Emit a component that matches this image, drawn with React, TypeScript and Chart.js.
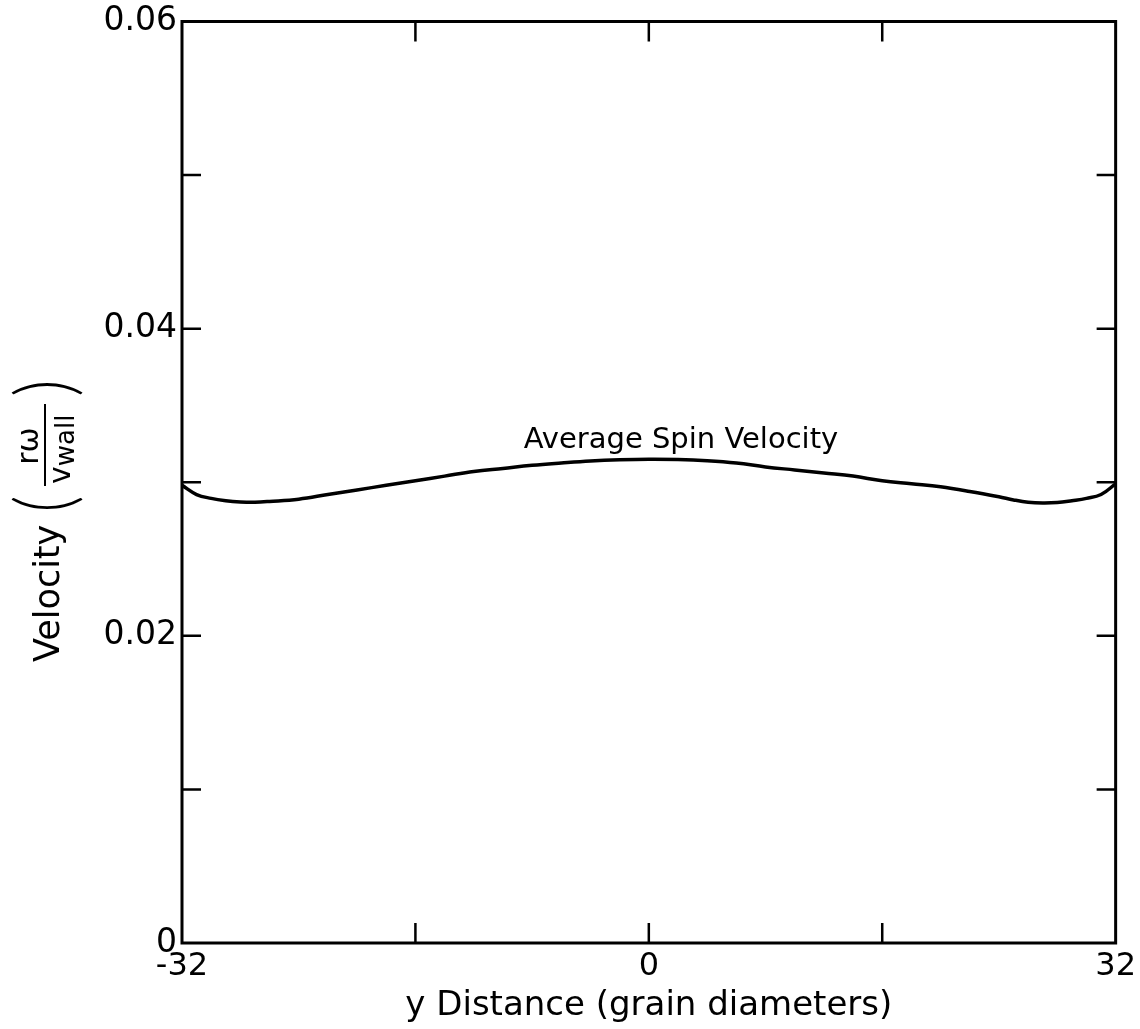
import { useEffect, useRef } from "react";
import { Chart, registerables } from "chart.js";

Chart.register(...registerables);

// Position across the channel, in grain diameters
const yDistance = [
  -32, -31, -30, -29, -28, -27, -26, -24, -22, -20, -18, -16, -14, -12, -10, -8, -6, -4, -2, 0,
  2, 4, 6, 8, 10, 12, 14, 16, 18, 20, 22, 24, 25, 26, 27, 28, 29, 30, 31, 32,
];

// Average spin velocity r·ω / v_wall
const spinVelocity = [
  0.0298, 0.0292, 0.02895, 0.0288, 0.02872, 0.0287, 0.02875, 0.0289, 0.0292, 0.0295, 0.0298,
  0.0301, 0.0304, 0.0307, 0.0309, 0.0311, 0.03125, 0.03138, 0.03146, 0.0315, 0.03148, 0.0314,
  0.03125, 0.031, 0.0308, 0.0306, 0.0304, 0.0301, 0.0299, 0.0297, 0.0294, 0.02905, 0.02885,
  0.0287, 0.02865, 0.02868, 0.0288, 0.02895, 0.0292, 0.0299,
];

const xLabelTicks = [-32, 0, 32];
const xMinorMarks = [-16, 0, 16];
const yLabelTicks = [0, 0.02, 0.04, 0.06];
const yMinorMarks = [0.01, 0.02, 0.03, 0.04, 0.05];

const curveLabel = "Average Spin Velocity";
const curveLabelAt = { x: 2.2, y: 0.0322 };
const xTitle = "y Distance (grain diameters)";

const FONT = "'DejaVu Sans', sans-serif";

const decorations = {
  id: "decorations",
  afterDraw(chart: any) {
    const { ctx, chartArea: a, scales } = chart;
    const xs = scales.x;
    const ys = scales.y;
    ctx.save();
    ctx.strokeStyle = "#000";
    ctx.fillStyle = "#000";

    // frame
    ctx.lineWidth = 3;
    ctx.strokeRect(a.left, a.top, a.right - a.left, a.bottom - a.top);

    // inward tick marks
    ctx.lineWidth = 2.5;
    ctx.beginPath();
    for (const v of yMinorMarks) {
      const py = ys.getPixelForValue(v);
      ctx.moveTo(a.left, py);
      ctx.lineTo(a.left + 19, py);
      ctx.moveTo(a.right, py);
      ctx.lineTo(a.right - 19, py);
    }
    for (const v of xMinorMarks) {
      const px = xs.getPixelForValue(v);
      ctx.moveTo(px, a.bottom);
      ctx.lineTo(px, a.bottom - 20);
      ctx.moveTo(px, a.top);
      ctx.lineTo(px, a.top + 20);
    }
    ctx.stroke();

    // curve label
    ctx.font = `29px ${FONT}`;
    ctx.textAlign = "center";
    ctx.textBaseline = "alphabetic";
    ctx.fillText(curveLabel, xs.getPixelForValue(curveLabelAt.x), ys.getPixelForValue(curveLabelAt.y));

    // x axis title
    ctx.font = `34px ${FONT}`;
    ctx.fillText(xTitle, (a.left + a.right) / 2, 1015);

    // y axis title: Velocity ( rω / v_wall ), read bottom to top
    ctx.translate(50, 662);
    ctx.rotate(-Math.PI / 2);
    ctx.textAlign = "left";
    ctx.textBaseline = "middle";
    ctx.font = `35px ${FONT}`;
    ctx.fillText("Velocity", 0, 0);

    // tall, light parentheses around the fraction
    ctx.textAlign = "center";
    ctx.font = `300 42px Lato, ${FONT}`;
    for (const [ch, u] of [["(", 158], [")", 274]] as [string, number][]) {
      ctx.save();
      ctx.translate(u, -4);
      ctx.scale(1.6, 1.9);
      ctx.fillText(ch, 0, 0);
      ctx.restore();
    }

    ctx.lineWidth = 2;
    ctx.beginPath();
    ctx.moveTo(176, -5);
    ctx.lineTo(258, -5);
    ctx.stroke();

    ctx.textBaseline = "alphabetic";
    ctx.font = `30px ${FONT}`;
    ctx.fillText("r\u03c9", 216, -12);
    ctx.textAlign = "left";
    ctx.fillText("v", 178, 20);
    const vw = ctx.measureText("v").width;
    ctx.font = `26px ${FONT}`;
    ctx.fillText("wall", 178 + vw, 24);

    ctx.restore();
  },
};

export default function App() {
  const canvasRef = useRef<HTMLCanvasElement | null>(null);

  useEffect(() => {
    if (!canvasRef.current) return;
    const chart = new Chart(canvasRef.current, {
      type: "line",
      data: {
        datasets: [
          {
            data: yDistance.map((x, i) => ({ x, y: spinVelocity[i] })),
            borderColor: "#000",
            borderWidth: 3.5,
            pointRadius: 0,
            tension: 0.4,
            fill: false,
          },
        ],
      },
      options: {
        animation: false,
        responsive: false,
        devicePixelRatio: 1,
        layout: { padding: { left: 0, right: 23, top: 21, bottom: 0 } },
        plugins: { legend: { display: false }, tooltip: { enabled: false } },
        scales: {
          x: {
            type: "linear",
            min: -32,
            max: 32,
            grid: { display: false, drawTicks: false, tickLength: 0 },
            border: { display: false },
            afterBuildTicks: (scale: any) => {
              scale.ticks = xLabelTicks.map((value) => ({ value }));
            },
            afterFit: (scale: any) => {
              scale.height = 86;
            },
            ticks: {
              color: "#000",
              font: { family: FONT, size: 32 },
              padding: 4,
              maxRotation: 0,
              autoSkip: false,
              callback: (v: any) => String(v),
            },
          },
          y: {
            type: "linear",
            min: 0,
            max: 0.06,
            grid: { display: false, drawTicks: false, tickLength: 0 },
            border: { display: false },
            afterBuildTicks: (scale: any) => {
              scale.ticks = yLabelTicks.map((value) => ({ value }));
            },
            afterFit: (scale: any) => {
              scale.width = 182;
            },
            ticks: {
              color: "#000",
              font: { family: FONT, size: 33, lineHeight: 1 },
              padding: 5,
              autoSkip: false,
              callback: (v: any) => (v === 0 ? "0" : Number(v).toFixed(2)),
            },
          },
        },
      },
      plugins: [decorations],
    });
    return () => chart.destroy();
  }, []);

  return (
    <div style={{ position: "absolute", left: 0, top: 0, width: 1140, height: 1029, background: "#fff" }}>
      <canvas ref={canvasRef} width={1140} height={1029} style={{ width: 1140, height: 1029 }} />
    </div>
  );
}
